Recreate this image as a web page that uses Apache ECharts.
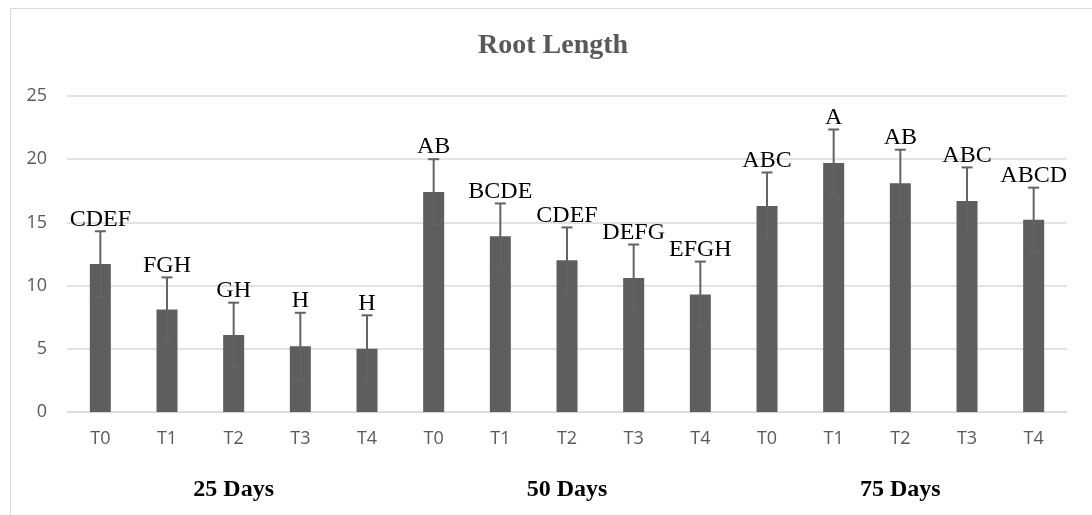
<!DOCTYPE html>
<html>
<head>
<meta charset="utf-8">
<title>Root Length</title>
<script src="https://cdn.jsdelivr.net/npm/echarts@6/dist/echarts.min.js"></script>
<style>
  html, body { margin: 0; padding: 0; background: #ffffff; }
  #chart { width: 1092px; height: 515px; }
</style>
</head>
<body>
<div id="chart"></div>
<script>
// Treatments within each sampling period
const treatments = ['T0', 'T1', 'T2', 'T3', 'T4'];
// Sampling periods
const periods = ['25 Days', '50 Days', '75 Days'];
// Mean root length per treatment and period
const means = [11.7, 8.1, 6.1, 5.2, 5.0, 17.4, 13.9, 12.0, 10.6, 9.3, 16.3, 19.7, 18.1, 16.7, 15.2];
// Error (±) for each mean
const errors = [2.6, 2.55, 2.55, 2.65, 2.65, 2.6, 2.6, 2.6, 2.65, 2.6, 2.65, 2.65, 2.65, 2.65, 2.55];
// Significance letters
const letters = ['CDEF', 'FGH', 'GH', 'H', 'H', 'AB', 'BCDE', 'CDEF', 'DEFG', 'EFGH', 'ABC', 'A', 'AB', 'ABC', 'ABCD'];
// Y axis ticks
const yTicks = { min: 0, max: 25, step: 5 };

const categories = [];
periods.forEach(() => treatments.forEach(t => categories.push(t)));

const serif = '"Times New Roman", "Liberation Serif", serif';
const sans = '"Open Sans", "Liberation Sans", sans-serif';

const chart = echarts.init(document.getElementById('chart'), null, { renderer: 'canvas' });

chart.setOption({
  backgroundColor: '#ffffff',
  animation: false,
  title: {
    text: 'Root Length',
    left: 473,
    top: 27,
    textStyle: { fontFamily: serif, fontSize: 28, fontWeight: 'bold', color: '#595959' }
  },
  graphic: [{
    type: 'rect',
    shape: { x: 10.5, y: 8.5, width: 1200, height: 600 },
    style: { fill: 'none', stroke: '#d9d9d9', lineWidth: 1 },
    silent: true,
    z: -1
  }],
  grid: { left: 67, right: 25, top: 96, bottom: 103, containLabel: false },
  xAxis: [{
    type: 'category',
    data: categories,
    position: 'bottom',
    axisLine: { show: true, lineStyle: { color: '#d9d9d9', width: 1 } },
    axisTick: { show: false },
    axisLabel: { fontFamily: sans, fontSize: 18, color: '#595959', margin: 18 }
  }, {
    type: 'category',
    data: periods,
    position: 'bottom',
    offset: 66,
    axisLine: { show: false },
    axisTick: { show: false },
    splitLine: { show: false },
    axisLabel: { fontFamily: serif, fontSize: 24, fontWeight: 'bold', color: '#000000', margin: 0 }
  }],
  yAxis: {
    type: 'value',
    min: yTicks.min,
    max: yTicks.max,
    interval: yTicks.step,
    axisLine: { show: false },
    axisTick: { show: false },
    axisLabel: { fontFamily: sans, fontSize: 18, color: '#595959', margin: 20 },
    splitLine: { lineStyle: { color: '#d9d9d9', width: 1.5 } }
  },
  series: [{
    type: 'bar',
    xAxisIndex: 0,
    data: means,
    barWidth: 21,
    itemStyle: { color: '#5e5e5e' },
    z: 2
  }, {
    type: 'custom',
    xAxisIndex: 0,
    data: means.map((m, i) => [i, m, errors[i]]),
    encode: { x: 0, y: 1 },
    z: 3,
    renderItem: function (params, api) {
      const i = api.value(0);
      const m = api.value(1);
      const e = api.value(2);
      const hi = api.coord([i, m + e]);
      const lo = api.coord([i, m - e]);
      const cap = 5.5;
      const line = { stroke: '#636363', lineWidth: 2 };
      return {
        type: 'group',
        children: [
          { type: 'line', shape: { x1: hi[0], y1: hi[1], x2: lo[0], y2: lo[1] }, style: line },
          { type: 'line', shape: { x1: hi[0] - cap, y1: hi[1], x2: hi[0] + cap, y2: hi[1] }, style: line },
          { type: 'line', shape: { x1: lo[0] - cap, y1: lo[1], x2: lo[0] + cap, y2: lo[1] }, style: line },
          {
            type: 'text',
            style: {
              text: letters[params.dataIndex],
              x: hi[0],
              y: hi[1],
              align: 'center',
              verticalAlign: 'bottom',
              fontFamily: serif,
              fontSize: 24,
              fill: '#000000'
            }
          }
        ]
      };
    }
  }]
});
</script>
</body>
</html>
